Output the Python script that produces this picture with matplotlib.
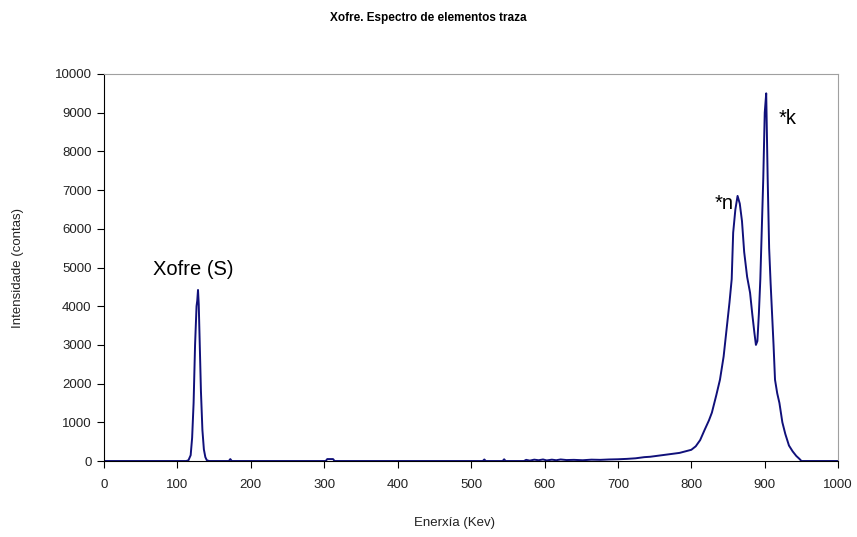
import matplotlib
matplotlib.use("Agg")
import matplotlib.pyplot as plt

plt.rcParams['font.family'] = ['Liberation Sans', 'DejaVu Sans']

# energia (keV) e contas, lidas a man do espectro
energy = [0, 105, 112, 115, 118, 120, 122, 124, 126, 127, 128, 129, 130, 132,
          134, 136, 138, 140, 143, 170, 172, 174, 302, 304, 312, 314, 516,
          518, 520, 543, 545, 547, 572, 575, 580, 586, 592, 598, 603, 610,
          616, 622, 630, 640, 652, 664, 676, 688, 700, 712, 724, 736, 744,
          752, 760, 768, 776, 784, 792, 800, 806, 812, 818, 824, 828, 834,
          839, 844, 848, 852, 855, 857, 860, 863, 866, 869, 872, 876, 880,
          883, 886, 888, 890, 892, 894, 896, 898, 900, 902, 904, 906, 908,
          910, 912, 914, 917, 920, 924, 928, 933, 938, 943, 947, 950, 1000]
counts = [0, 0, 0, 20, 150, 600, 1500, 3000, 4000, 4150, 4420, 4050, 3300,
          1800, 800, 300, 100, 20, 0, 0, 50, 0, 0, 50, 50, 0, 0,
          40, 0, 0, 45, 0, 0, 30, 10, 35, 20, 40, 15, 35,
          20, 40, 25, 30, 20, 35, 30, 40, 45, 55, 70, 100, 110,
          130, 150, 170, 190, 210, 250, 290, 380, 540, 800, 1050, 1250, 1700,
          2100, 2700, 3400, 4100, 4700, 5900, 6500, 6850, 6650, 6200, 5400, 4760, 4350,
          3800, 3300, 3000, 3100, 3800, 4700, 6000, 7300, 9000, 9500, 7300, 5500, 4600,
          3800, 3000, 2100, 1750, 1500, 1000, 700, 400, 250, 130, 60, 0, 0]

peak_labels = ["Xofre (S)", "*n", "*k"]
label_x = [121, 845, 931]
label_y = [4950, 6650, 8850]

fig = plt.figure(figsize=(8.57, 5.37), dpi=100)
ax = fig.add_axes([0.1214, 0.1415, 0.8566, 0.7207])

ax.plot(energy, counts, color='#10107a', linewidth=1.4)

for txt, x, y in zip(peak_labels, label_x, label_y):
    ax.text(x, y, txt, fontsize=14.5, ha='center', va='center', color='black')

ax.set_xlim(0, 1000)
ax.set_ylim(0, 10000)
ax.set_xticks(range(0, 1001, 100))
ax.set_yticks(range(0, 10001, 1000))
ax.tick_params(axis='both', direction='out', length=5, labelsize=9.5,
               colors='black', labelcolor='#222222')
ax.tick_params(axis='x', pad=8)
ax.tick_params(axis='y', pad=4)
ax.spines['top'].set_color('#a0a0a0')
ax.spines['right'].set_color('#a0a0a0')
ax.spines['left'].set_color('black')
ax.spines['bottom'].set_color('black')

fig.text(0.5, 0.966, "Xofre. Espectro de elementos traza", ha='center',
         va='center', fontsize=8.5, fontweight='bold')
fig.text(0.53, 0.026, "Enerxía (Kev)", ha='center', va='center', fontsize=9.5,
         color='#222222')
fig.text(0.021, 0.5, "Intensidade (contas)", ha='center', va='center',
         fontsize=9.5, rotation=90, color='#222222')

fig.savefig('out.png', dpi=100)
